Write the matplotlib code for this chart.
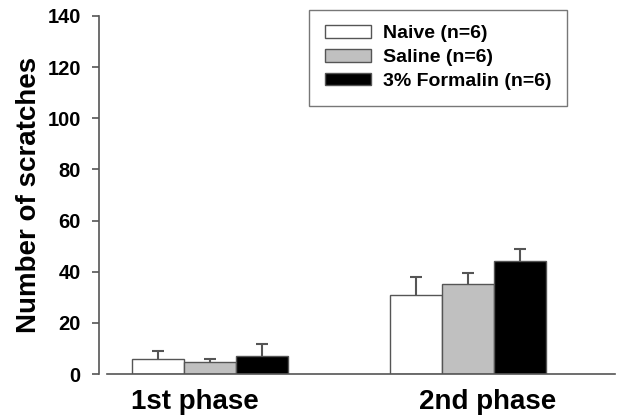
import numpy as np
import matplotlib.pyplot as plt
from matplotlib.transforms import ScaledTranslation

plt.rcParams['font.family'] = ['Liberation Sans', 'DejaVu Sans']
plt.rcParams['font.weight'] = 'bold'

phases = ['1st phase', '2nd phase']
groups = ['Naive (n=6)', 'Saline (n=6)', '3% Formalin (n=6)']
colors = ['white', '#c0c0c0', 'black']
means = [[6.0, 31.0], [4.7, 35.0], [7.0, 44.0]]
errs = [[3.0, 7.0], [1.3, 4.6], [4.7, 4.7]]

fig = plt.figure(figsize=(6.18, 4.2), dpi=100)
ax = fig.add_axes([0.160, 0.1095, 0.835, 0.8525])

x = np.arange(len(phases))
w = 0.2016
edge = '#555555'
for i in range(3):
    pos = x + (i - 1) * w
    ax.bar(pos, means[i], w, color=colors[i], edgecolor=edge, linewidth=1.0,
           label=groups[i], zorder=2)
    eb = ax.errorbar(pos, means[i], yerr=[np.zeros(2), errs[i]], fmt='none',
                     ecolor=edge, elinewidth=1.5, capsize=4, capthick=1.5, zorder=1)
    eb[1][0].set_visible(False)  # hide lower cap

ax.set_ylim(0, 140)
ax.set_xlim(-0.43, 1.57)
ax.set_yticks(np.arange(0, 141, 20))
ax.set_xticks(x)
ax.set_xticklabels(phases, fontsize=20, fontweight='bold')
ax.tick_params(axis='x', length=0, pad=11)
ax.tick_params(axis='y', labelsize=14.5, direction='out', length=5, color=edge, width=1.2, pad=8)
for t in ax.get_yticklabels():
    t.set_fontweight('bold')
# phase labels sit a little off the group centres in the original
for t, dx in zip(ax.get_xticklabels(), [-15, 20]):
    t.set_transform(t.get_transform() + ScaledTranslation(dx / 100, 0, fig.dpi_scale_trans))
ax.set_ylabel('Number of scratches', fontsize=20, fontweight='bold', labelpad=4)

ax.spines['top'].set_visible(False)
ax.spines['right'].set_visible(False)
ax.spines['left'].set_color(edge)
ax.spines['bottom'].set_color(edge)
ax.spines['left'].set_linewidth(1.2)
ax.spines['bottom'].set_linewidth(1.2)
ax.spines['bottom'].set_bounds(-0.399, 1.57)

leg = ax.legend(loc='upper right', bbox_to_anchor=(0.907, 1.017), fontsize=14,
                frameon=True, fancybox=False, edgecolor=edge, handlelength=2.4,
                handleheight=0.6, borderpad=0.8, labelspacing=0.35,
                borderaxespad=0, handletextpad=0.6)
leg.get_frame().set_linewidth(1.0)
for t in leg.get_texts():
    t.set_fontweight('bold')

fig.savefig('out.png', dpi=100)
